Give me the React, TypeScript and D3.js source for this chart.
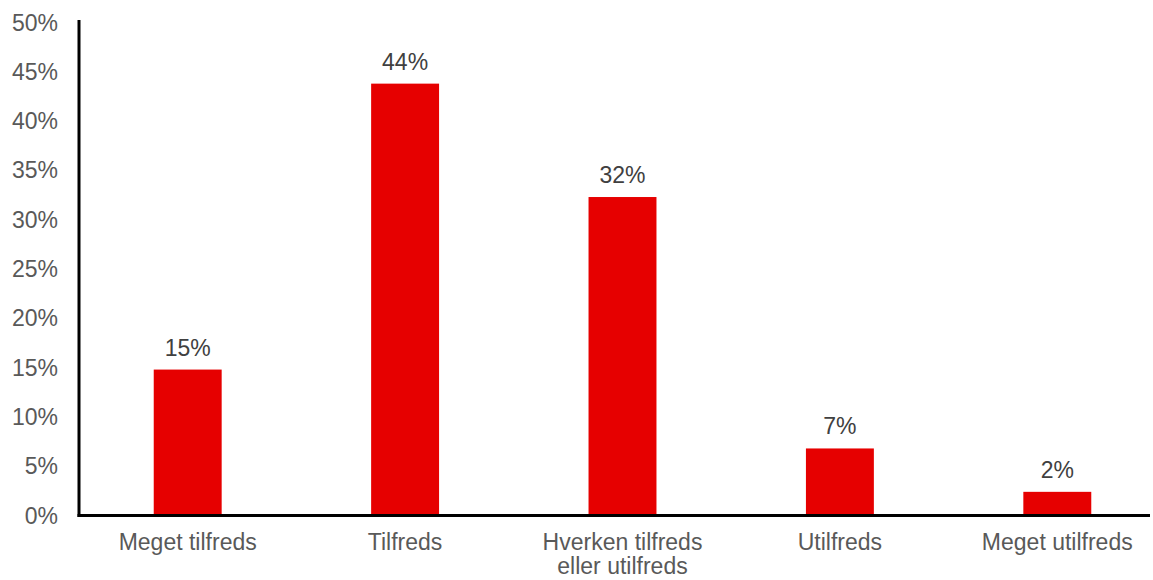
import React from "react";
import * as d3 from "d3";

const categories: string[][] = [
  ["Meget tilfreds"],
  ["Tilfreds"],
  ["Hverken tilfreds", "eller utilfreds"],
  ["Utilfreds"],
  ["Meget utilfreds"],
];
const values: number[] = [14.8, 43.8, 32.3, 6.8, 2.4];
const valueLabels: string[] = ["15%", "44%", "32%", "7%", "2%"];
const yTicks: number[] = [0, 5, 10, 15, 20, 25, 30, 35, 40, 45, 50];

export default function App() {
  const W = 1153;
  const H = 580;
  const left = 79;
  const right = 1166;
  const y0 = 515.5;
  const y50 = 22.5;
  const x = d3
    .scaleBand<number>()
    .domain(values.map((_, i) => i))
    .range([left, right])
    .paddingInner(0.6875)
    .paddingOuter(0.34375);
  const y = d3.scaleLinear().domain([0, 50]).range([y0, y50]);
  const font = "'Liberation Sans', Arial, sans-serif";
  const fs = 23;
  return (
    <svg
      width={W}
      height={H}
      style={{ position: "absolute", left: 0, top: 0 }}
      fontFamily={font}
    >
      <rect width={W} height={H} fill="#fff" />
      {values.map((v, i) => (
        <rect
          key={i}
          x={x(i)}
          y={y(v)}
          width={x.bandwidth()}
          height={y0 - y(v)}
          fill="#E60000"
        />
      ))}
      {values.map((v, i) => (
        <text
          key={"l" + i}
          x={(x(i) as number) + x.bandwidth() / 2}
          y={y(v) - 14}
          textAnchor="middle"
          fontSize={fs}
          fill="#404040"
        >
          {valueLabels[i]}
        </text>
      ))}
      {yTicks.map((t) => (
        <text
          key={"t" + t}
          x={58}
          y={y(t) + 8}
          textAnchor="end"
          fontSize={fs}
          fill="#595959"
        >
          {t + "%"}
        </text>
      ))}
      <line x1={left} x2={left} y1={20} y2={y0 + 1.5} stroke="#000" strokeWidth={3} />
      <line x1={left - 1.5} x2={1150} y1={y0} y2={y0} stroke="#000" strokeWidth={3} />
      {categories.map((lines, i) => (
        <text
          key={"c" + i}
          x={(x(i) as number) + x.bandwidth() / 2}
          y={550}
          textAnchor="middle"
          fontSize={fs}
          fill="#595959"
        >
          {lines.map((ln, j) => (
            <tspan key={j} x={(x(i) as number) + x.bandwidth() / 2} dy={j === 0 ? 0 : 24}>
              {ln}
            </tspan>
          ))}
        </text>
      ))}
    </svg>
  );
}
